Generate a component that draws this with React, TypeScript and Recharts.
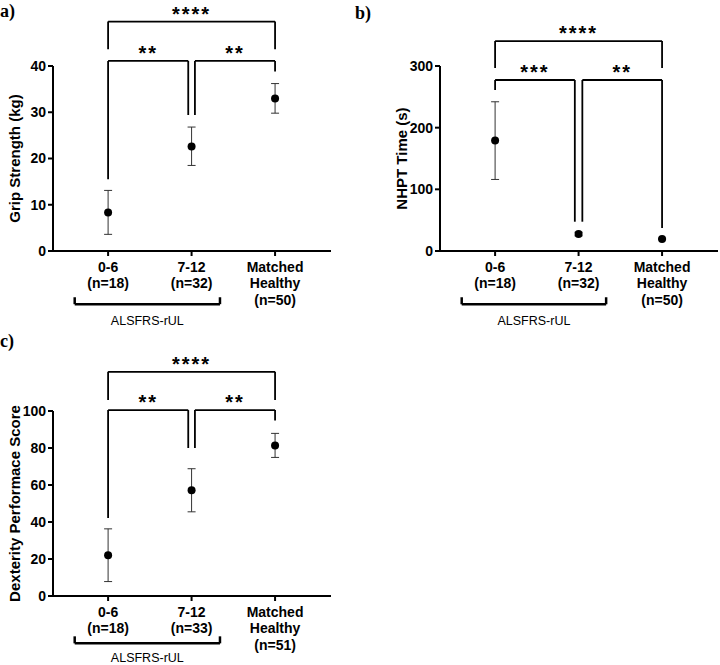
import React from 'react';
import { ScatterChart, Scatter, XAxis, YAxis, ErrorBar, ReferenceLine } from 'recharts';

const FONT = '"Liberation Sans", Arial, sans-serif';

// group positions on the x axis and their tick labels
const groupX = [0, 1, 2];
const labelsAB = [['0-6', '(n=18)'], ['7-12', '(n=32)'], ['Matched', 'Healthy', '(n=50)']];
const labelsC = [['0-6', '(n=18)'], ['7-12', '(n=33)'], ['Matched', 'Healthy', '(n=51)']];

// a) grip strength (kg)
const gripMean = [8.3, 22.6, 33.0];
const gripLow = [3.6, 18.5, 29.8];
const gripHigh = [13.1, 26.8, 36.2];
const gripTicks = [0, 10, 20, 30, 40];

// b) NHPT time (s)
const nhptMean = [179, 27.5, 19.5];
const nhptLow = [116, 24.5, 18.5];
const nhptHigh = [242, 30.5, 20.5];
const nhptTicks = [0, 100, 200, 300];

// c) dexterity performance score
const dexMean = [22.0, 57.1, 81.4];
const dexLow = [7.8, 45.5, 74.9];
const dexHigh = [36.3, 68.8, 87.9];
const dexTicks = [0, 20, 40, 60, 80, 100];

// significance brackets: [x1, x2, y, leg1 bottom, leg2 bottom, stars]
type Bracket = [number, number, number, number, number, string];
const gripBrackets: Bracket[] = [
  [0, 2, 49.6, 43.6, 43.6, '****'],
  [0, 0.96, 41.1, 15.5, 29.4, '**'],
  [1.04, 2, 41.1, 29.4, 38.8, '**'],
];
const nhptBrackets: Bracket[] = [
  [0, 2, 340.5, 296.7, 296.7, '****'],
  [0, 0.955, 277.3, 261, 47.5, '***'],
  [1.045, 2, 277.3, 47.5, 37.3, '**'],
];
const dexBrackets: Bracket[] = [
  [0, 2, 121.2, 105.9, 105.9, '****'],
  [0, 0.96, 100.5, 42.2, 80, '**'],
  [1.04, 2, 100.5, 80, 94.8, '**'],
];

// ALSFRS-rUL group bracket under the axis: [x1, x2, y, tick top, label gap]
const gripGroup = [-0.4, 1.34, -11.5, -10.0, 12];
const nhptGroup = [-0.4, 1.33, -86.4, -75.0, 12];
const dexGroup = [-0.4, 1.34, -25.6, -21.8, 10];

const XTick = ({ x, y, payload, labels }: any) => {
  const lines: string[] = labels[payload.index ?? payload.value] || [];
  return (
    <g transform={`translate(${x},${y})`}>
      <text textAnchor="middle" fontFamily={FONT} fontWeight="bold" fontSize={14} fill="#000">
        {lines.map((l, i) => (
          <tspan key={i} x={0} dy={i === 0 ? 14 : 16.3}>
            {l}
          </tspan>
        ))}
      </text>
    </g>
  );
};

interface PanelProps {
  mean: number[];
  low: number[];
  high: number[];
  ticks: number[];
  yLabel: string;
  labels: string[][];
  brackets: Bracket[];
  group: number[];
}

function Panel({ mean, low, high, ticks, yLabel, labels, brackets, group }: PanelProps) {
  const data = groupX.map((x, i) => ({
    x,
    y: mean[i],
    err: [mean[i] - low[i], high[i] - mean[i]],
  }));
  const line = { stroke: '#000', strokeWidth: 1.8 };
  const [gx1, gx2, gy, gtop, gap] = group;

  return (
    <ScatterChart width={333} height={330} margin={{ top: 66, right: 2, bottom: 19, left: 0 }}>
      <XAxis
        type="number"
        dataKey="x"
        domain={[-0.66, 2.67]}
        ticks={groupX}
        allowDataOverflow
        height={60}
        tickSize={5}
        axisLine={{ stroke: '#000', strokeWidth: 2 }}
        tickLine={{ stroke: '#000', strokeWidth: 2 }}
        tick={<XTick labels={labels} />}
        interval={0}
      />
      <YAxis
        type="number"
        dataKey="y"
        domain={[ticks[0], ticks[ticks.length - 1]]}
        ticks={ticks}
        allowDataOverflow
        width={53}
        tickSize={5}
        tickMargin={2}
        axisLine={{ stroke: '#000', strokeWidth: 2 }}
        tickLine={{ stroke: '#000', strokeWidth: 2 }}
        tick={{ fontFamily: FONT, fontWeight: 'bold', fontSize: 14, fill: '#000' }}
        label={{
          value: yLabel,
          angle: -90,
          position: 'insideLeft',
          offset: 15,
          style: { textAnchor: 'middle', fontFamily: FONT, fontWeight: 'bold', fontSize: 15, fill: '#000' },
        }}
      />
      {brackets.flatMap(([x1, x2, y, l1, l2, stars], i) => [
        <ReferenceLine
          key={`h${i}`}
          ifOverflow="visible"
          segment={[{ x: x1, y }, { x: x2, y }]}
          {...line}
          label={{
            value: stars,
            position: 'top',
            offset: 1,
            style: { fontFamily: FONT, fontWeight: 'bold', fontSize: 20, letterSpacing: 2, fill: '#000' },
          }}
        />,
        <ReferenceLine key={`a${i}`} ifOverflow="visible" segment={[{ x: x1, y }, { x: x1, y: l1 }]} {...line} />,
        <ReferenceLine key={`b${i}`} ifOverflow="visible" segment={[{ x: x2, y }, { x: x2, y: l2 }]} {...line} />,
      ])}
      <ReferenceLine
        ifOverflow="visible"
        segment={[{ x: gx1, y: gy }, { x: gx2, y: gy }]}
        stroke="#000"
        strokeWidth={2.5}
        label={{
          value: 'ALSFRS-rUL',
          position: 'bottom',
          offset: gap,
          style: { fontFamily: FONT, fontSize: 12.5, fill: '#000' },
        }}
      />
      <ReferenceLine ifOverflow="visible" segment={[{ x: gx1, y: gy }, { x: gx1, y: gtop }]} stroke="#000" strokeWidth={2.5} />
      <ReferenceLine ifOverflow="visible" segment={[{ x: gx2, y: gy }, { x: gx2, y: gtop }]} stroke="#000" strokeWidth={2.5} />
      <Scatter
        data={data}
        fill="#000"
        isAnimationActive={false}
        shape={(p: any) => <circle cx={p.cx} cy={p.cy} r={4} fill="#000" />}
      >
        <ErrorBar dataKey="err" direction="y" width={4} stroke="#333" strokeWidth={1} isAnimationActive={false} />
      </Scatter>
    </ScatterChart>
  );
}

const panelTag = (text: string, left: number, top: number) => (
  <div
    style={{
      position: 'absolute',
      left,
      top,
      fontFamily: '"Liberation Serif", "Times New Roman", serif',
      fontWeight: 'bold',
      fontSize: 18,
      lineHeight: '20px',
    }}
  >
    {text}
  </div>
);

export default function App() {
  return (
    <div style={{ position: 'relative', width: 720, height: 665, background: '#fff', overflow: 'hidden' }}>
      <style>{'body{margin:0}'}</style>
      {panelTag('a)', 0, 1)}
      {panelTag('b)', 355, 3)}
      {panelTag('c)', 0, 331)}
      <div style={{ position: 'absolute', left: 0, top: 0 }}>
        <Panel
          mean={gripMean}
          low={gripLow}
          high={gripHigh}
          ticks={gripTicks}
          yLabel="Grip Strength (kg)"
          labels={labelsAB}
          brackets={gripBrackets}
          group={gripGroup}
        />
      </div>
      <div style={{ position: 'absolute', left: 387, top: 0 }}>
        <Panel
          mean={nhptMean}
          low={nhptLow}
          high={nhptHigh}
          ticks={nhptTicks}
          yLabel="NHPT Time (s)"
          labels={labelsAB}
          brackets={nhptBrackets}
          group={nhptGroup}
        />
      </div>
      <div style={{ position: 'absolute', left: 0, top: 345 }}>
        <Panel
          mean={dexMean}
          low={dexLow}
          high={dexHigh}
          ticks={dexTicks}
          yLabel="Dexterity Performace Score"
          labels={labelsC}
          brackets={dexBrackets}
          group={dexGroup}
        />
      </div>
    </div>
  );
}
